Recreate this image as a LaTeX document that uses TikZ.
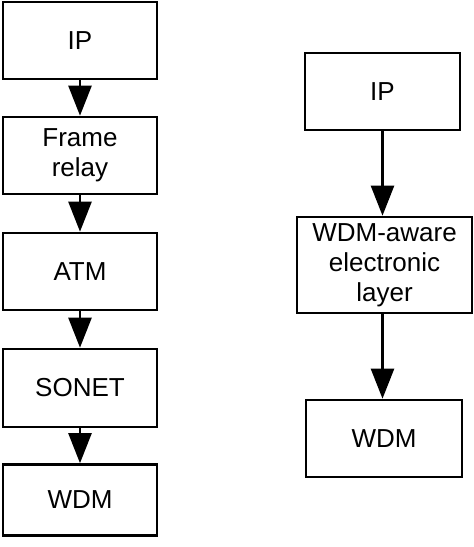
\documentclass[tikz,border=0pt]{standalone}
\usepackage{fontspec}
\setmainfont{Liberation Sans}
\usetikzlibrary{arrows.meta}
\begin{document}
\begin{tikzpicture}[x=1pt,y=1pt,
  box/.style={draw=black, line width=2.6pt, fill=white, inner sep=0pt, align=center,
    font=\fontsize{26}{30}\selectfont},
  arr/.style={line width=2.4pt, -{Triangle[length=30pt,width=23pt]}}]
\useasboundingbox (0,0) rectangle (474,547);
% left column
\node[box, minimum width=154pt, minimum height=77pt] (ipA) at (80,506.5) {IP};
\node[box, minimum width=154pt, minimum height=77pt] (fr) at (80,391.5) {Frame\\relay};
\node[box, minimum width=154pt, minimum height=77pt] (atm) at (80,275.5) {ATM};
\node[box, minimum width=154pt, minimum height=78pt] (sonet) at (80,159) {SONET};
\node[box, minimum width=154pt, minimum height=71pt] (wdmA) at (80,47) {WDM};
\draw[arr] (ipA.south) -- (fr.north);
\draw[arr] (fr.south) -- (atm.north);
\draw[arr] (atm.south) -- (sonet.north);
\draw[arr] (sonet.south) -- (wdmA.north);
% right column
\node[box, minimum width=155pt, minimum height=77pt] (ipB) at (382.5,455.5) {IP};
\node[box, minimum width=175pt, minimum height=96pt] (aware) at (384.5,282) {WDM-aware\\electronic\\layer};
\node[box, minimum width=156pt, minimum height=77pt] (wdmB) at (384,108.5) {WDM};
\draw[arr] (ipB.south) -- (ipB.south |- aware.north);
\draw[arr] (ipB.south |- aware.south) -- (ipB.south |- wdmB.north);
\end{tikzpicture}
\end{document}
